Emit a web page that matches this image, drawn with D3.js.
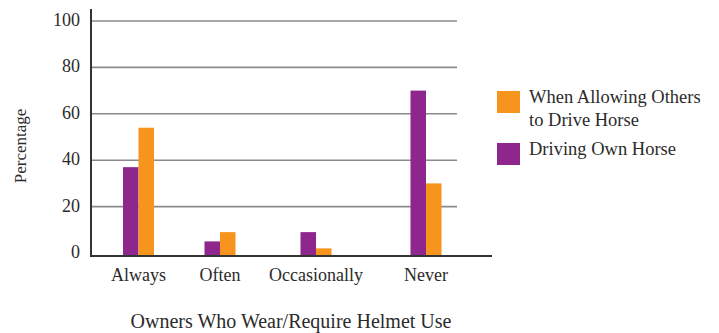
<!DOCTYPE html>
<html>
<head>
<meta charset="utf-8">
<script src="https://cdn.jsdelivr.net/npm/d3@7"></script>
<style>
  html, body { margin: 0; padding: 0; background: #fff; }
</style>
</head>
<body>
<svg id="chart" width="719" height="333" font-family="'Liberation Serif', 'Times New Roman', serif"></svg>
<script>
// Helmet use among owners, by frequency
const categories = ["Always", "Often", "Occasionally", "Never"];
const seriesNames = ["Driving Own Horse", "When Allowing Others to Drive Horse"];
const drivingOwn = [37, 5, 9, 70];
const allowingOthers = [54, 9, 2, 30];
const yTicks = [0, 20, 40, 60, 80, 100];
const colors = ["#8e268e", "#f7941d"];

const svg = d3.select("#chart");
const textColor = "#2b2b2b";

const plot = { left: 91, right: 492, gridRight: 457, top: 9, axisY: 256 };

const y = d3.scaleLinear().domain([0, 100]).range([253, 21]);

// category centres along the x axis (uneven spacing)
const x = d3.scaleLinear()
  .domain(d3.range(categories.length))
  .range([138.5, 220, 316, 426]);

const barWidth = 15.5;
const xSub = d3.scaleBand()
  .domain(seriesNames)
  .range([-barWidth, barWidth]);

// horizontal gridlines
svg.append("g")
  .selectAll("line")
  .data(yTicks.filter(d => d > 0))
  .join("line")
  .attr("x1", plot.left)
  .attr("x2", plot.gridRight)
  .attr("y1", d => y(d))
  .attr("y2", d => y(d))
  .attr("stroke", "#8a8a8a")
  .attr("stroke-width", 1.6);

// y tick labels
svg.append("g")
  .selectAll("text")
  .data(yTicks)
  .join("text")
  .attr("x", 80)
  .attr("y", d => y(d) + 5)
  .attr("text-anchor", "end")
  .attr("font-size", 18)
  .attr("fill", textColor)
  .text(d => d);

// bars, standing on the x axis line
const rows = categories.map((c, i) => ({ i, vals: [drivingOwn[i], allowingOthers[i]] }));
svg.append("g")
  .selectAll("g")
  .data(rows)
  .join("g")
  .attr("transform", d => `translate(${x(d.i)},0)`)
  .selectAll("rect")
  .data(d => d.vals.map((v, j) => ({ name: seriesNames[j], v, j })))
  .join("rect")
  .attr("x", d => xSub(d.name))
  .attr("width", xSub.bandwidth())
  .attr("y", d => y(d.v))
  .attr("height", d => plot.axisY - y(d.v))
  .attr("fill", d => colors[d.j]);

// axis lines
svg.append("line")
  .attr("x1", plot.left).attr("x2", plot.left)
  .attr("y1", plot.top).attr("y2", plot.axisY + 1)
  .attr("stroke", "#333").attr("stroke-width", 2);
svg.append("line")
  .attr("x1", plot.left - 1).attr("x2", plot.right)
  .attr("y1", plot.axisY).attr("y2", plot.axisY)
  .attr("stroke", "#333").attr("stroke-width", 2);

// category labels
svg.append("g")
  .selectAll("text")
  .data(categories)
  .join("text")
  .attr("x", (d, i) => x(i))
  .attr("y", 281)
  .attr("text-anchor", "middle")
  .attr("font-size", 18)
  .attr("fill", textColor)
  .text(d => d);

// axis titles
svg.append("text")
  .attr("transform", "translate(26,146) rotate(-90)")
  .attr("text-anchor", "middle")
  .attr("font-size", 17)
  .attr("fill", textColor)
  .text("Percentage");

svg.append("text")
  .attr("x", 291)
  .attr("y", 328)
  .attr("text-anchor", "middle")
  .attr("font-size", 20)
  .attr("fill", textColor)
  .text("Owners Who Wear/Require Helmet Use");

// legend
const legend = svg.append("g");
const legendItems = [
  { color: colors[1], lines: ["When Allowing Others", "to Drive Horse"], top: 91 },
  { color: colors[0], lines: ["Driving Own Horse"], top: 143 }
];
legendItems.forEach(item => {
  legend.append("rect")
    .attr("x", 497).attr("y", item.top)
    .attr("width", 23).attr("height", 22)
    .attr("fill", item.color);
  const t = legend.append("text")
    .attr("x", 529).attr("y", item.top + 12)
    .attr("font-size", 18.5)
    .attr("fill", textColor);
  item.lines.forEach((l, i) => {
    t.append("tspan").attr("x", 529).attr("dy", i === 0 ? 0 : 22.5).text(l);
  });
});
</script>
</body>
</html>
